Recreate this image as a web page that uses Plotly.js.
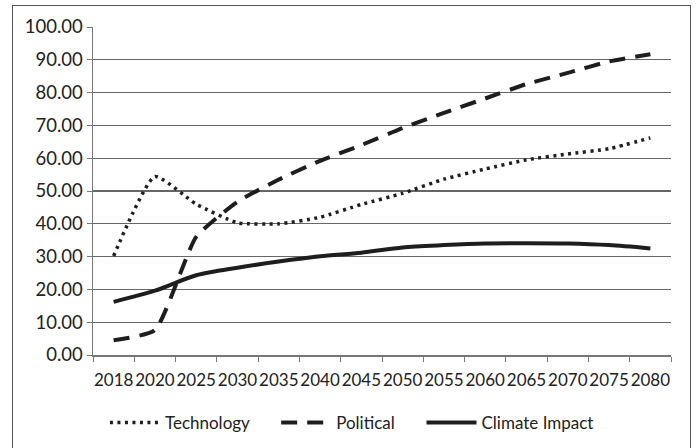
<!DOCTYPE html>
<html>
<head>
<meta charset="utf-8">
<script src="https://cdn.plot.ly/plotly-3.0.1.min.js"></script>
<style>
html,body{margin:0;padding:0;background:#fff;}
#frame{position:absolute;left:12px;top:5px;width:679px;height:460px;border:1.5px solid #555;box-sizing:border-box;}
#chart{position:absolute;left:0;top:0;width:696px;height:448px;}
</style>
</head>
<body>
<div id="frame"></div>
<div id="chart"></div>
<script>
var categories = ['2018','2020','2025','2030','2035','2040','2045','2050','2055','2060','2065','2070','2075','2080'];
var technology = [30.2, 54.4, 46.0, 40.3, 40.0, 42.0, 45.9, 49.3, 53.6, 56.7, 59.5, 61.3, 62.9, 66.2];
var political = [4.5, 7.6, 36.0, 46.7, 53.5, 59.2, 64.0, 69.2, 73.8, 78.2, 82.6, 86.0, 89.5, 91.7];
var climateImpact = [16.2, 19.6, 24.3, 26.6, 28.5, 30.1, 31.2, 32.8, 33.5, 34.0, 34.1, 34.0, 33.5, 32.5];
var seriesNames = ['Technology', 'Political', 'Climate Impact'];
var yTicks = [0,10,20,30,40,50,60,70,80,90,100];

var pad = '\u00a0\u00a0\u00a0\u00a0\u00a0';
var traces = [
  {x: categories, y: technology, name: seriesNames[0] + pad, type: 'scatter', mode: 'lines',
   line: {color: '#1e1e1e', width: 3.5, dash: '3px,4.5px', shape: 'spline', smoothing: 0.5}},
  {x: categories, y: political, name: seriesNames[1] + pad, type: 'scatter', mode: 'lines',
   line: {color: '#1e1e1e', width: 4, dash: '16px,10px', shape: 'spline', smoothing: 0.5}},
  {x: categories, y: climateImpact, name: seriesNames[2], type: 'scatter', mode: 'lines',
   line: {color: '#1e1e1e', width: 4, shape: 'spline', smoothing: 0.8}}
];

var layout = {
  width: 696, height: 448,
  margin: {l: 93, r: 25, t: 27, b: 93, autoexpand: false},
  paper_bgcolor: 'rgba(0,0,0,0)',
  plot_bgcolor: 'rgba(0,0,0,0)',
  font: {family: 'Lato, sans-serif', size: 17, color: '#222'},
  showlegend: true,
  legend: {orientation: 'h', x: 0.448, xanchor: 'center', y: -0.207, yanchor: 'middle',
           itemwidth: 50,
           font: {family: 'Lato, sans-serif', size: 17, color: '#222'}, bgcolor: 'rgba(0,0,0,0)'},
  xaxis: {
    type: 'category', range: [-0.5, 13.5], tickson: 'boundaries', ticks: 'outside', ticklen: 5, tickcolor: '#777',
    tickangle: 0, ticklabelstandoff: 9, showgrid: false, showline: true, linecolor: '#777', linewidth: 1.5,
    tickfont: {family: 'Lato, sans-serif', size: 17, color: '#222'}, fixedrange: true, zeroline: false, automargin: false
  },
  yaxis: {
    range: [0, 100], tickvals: yTicks, tickformat: '.2f', ticks: 'outside', ticklen: 5, tickcolor: '#777',
    showgrid: true, gridcolor: '#666', gridwidth: 1.3, showline: true, linecolor: '#777', linewidth: 1.5,
    zeroline: false, tickfont: {family: 'Lato, sans-serif', size: 18.5, color: '#222'}, fixedrange: true, automargin: false
  }
};

Plotly.newPlot('chart', traces, layout, {displayModeBar: false, staticPlot: true});
</script>
</body>
</html>
